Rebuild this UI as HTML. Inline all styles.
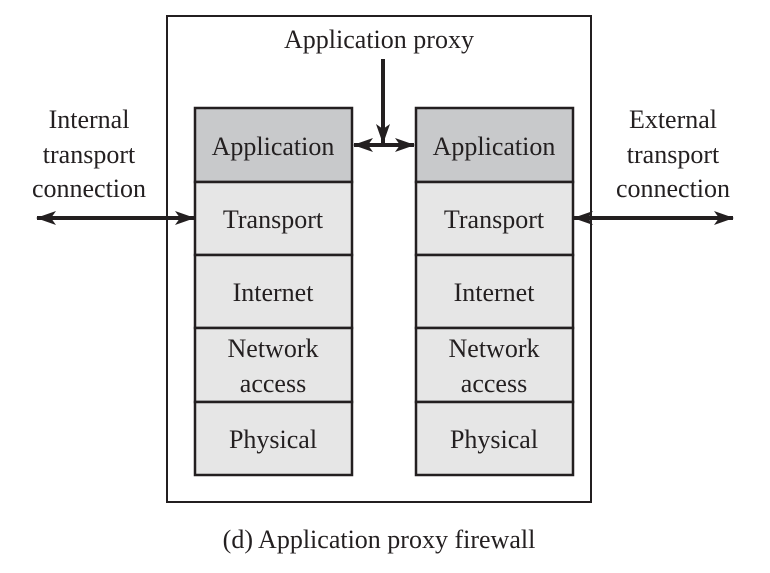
<!DOCTYPE html>
<html><head><meta charset="utf-8"><style>
html,body{margin:0;padding:0;background:#fff;}
svg{display:block;}
text{font-family:"Liberation Serif",serif;fill:#231f20;font-size:26px;text-anchor:middle;}
</style></head><body>
<svg width="770" height="573" viewBox="0 0 770 573" xmlns="http://www.w3.org/2000/svg">
<defs>
<marker id="ah" viewBox="0 0 20 14" refX="19" refY="7" markerWidth="20" markerHeight="14" markerUnits="userSpaceOnUse" orient="auto-start-reverse">
<path d="M0,0 L20,7 L0,14 L5,7 Z" fill="#231f20"/>
</marker>
</defs>
<rect x="167" y="16" width="424" height="486" fill="none" stroke="#231f20" stroke-width="2"/>
<g stroke="#231f20" stroke-width="2.5">
<rect x="195" y="108" width="157" height="74" fill="#c8c9cb"/>
<rect x="195" y="182" width="157" height="73" fill="#e6e6e6"/>
<rect x="195" y="255" width="157" height="73" fill="#e6e6e6"/>
<rect x="195" y="328" width="157" height="74" fill="#e6e6e6"/>
<rect x="195" y="402" width="157" height="73" fill="#e6e6e6"/>
<rect x="416" y="108" width="157" height="74" fill="#c8c9cb"/>
<rect x="416" y="182" width="157" height="73" fill="#e6e6e6"/>
<rect x="416" y="255" width="157" height="73" fill="#e6e6e6"/>
<rect x="416" y="328" width="157" height="74" fill="#e6e6e6"/>
<rect x="416" y="402" width="157" height="73" fill="#e6e6e6"/>
</g>
<g stroke="#231f20" stroke-width="4" fill="none">
<line x1="383" y1="59" x2="383" y2="143" marker-end="url(#ah)"/>
<line x1="354" y1="145" x2="414" y2="145" marker-start="url(#ah)" marker-end="url(#ah)"/>
<line x1="37" y1="218" x2="194" y2="218" marker-start="url(#ah)" marker-end="url(#ah)"/>
<line x1="574" y1="218" x2="733" y2="218" marker-start="url(#ah)" marker-end="url(#ah)"/>
</g>
<text x="379" y="48">Application proxy</text>
<text x="273" y="155">Application</text>
<text x="273" y="228">Transport</text>
<text x="273" y="301">Internet</text>
<text x="273" y="357">Network</text>
<text x="273" y="392">access</text>
<text x="273" y="448">Physical</text>
<text x="494" y="155">Application</text>
<text x="494" y="228">Transport</text>
<text x="494" y="301">Internet</text>
<text x="494" y="357">Network</text>
<text x="494" y="392">access</text>
<text x="494" y="448">Physical</text>
<text x="89" y="128">Internal</text>
<text x="89" y="163">transport</text>
<text x="89" y="197">connection</text>
<text x="673" y="128">External</text>
<text x="673" y="163">transport</text>
<text x="673" y="197">connection</text>
<text x="379" y="548">(d) Application proxy firewall</text>
</svg>
</body></html>
